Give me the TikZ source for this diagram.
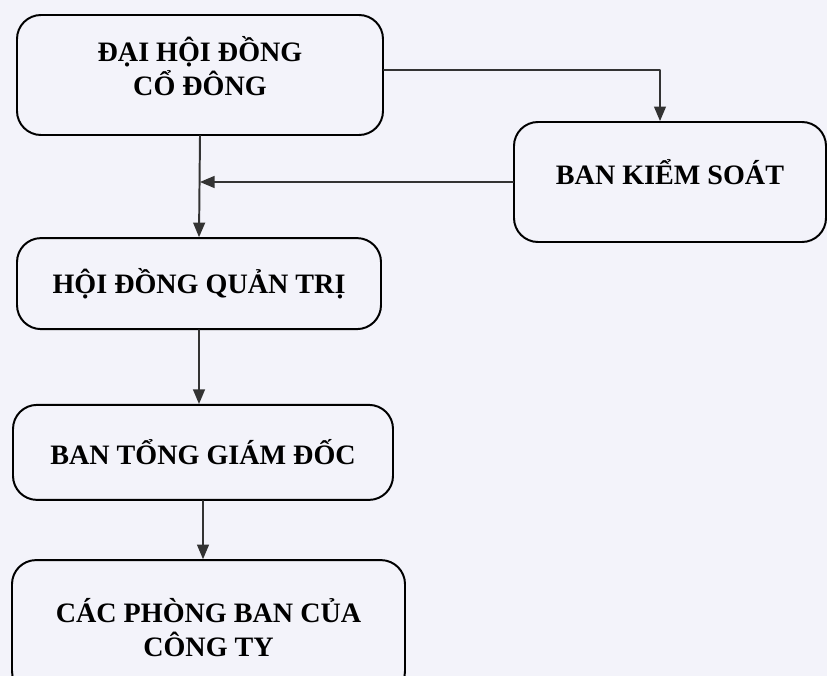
\documentclass[tikz,border=0pt]{standalone}
\usepackage{fontspec}
\setmainfont{Liberation Serif}
\usetikzlibrary{arrows}
\definecolor{paper}{RGB}{243,243,250}

\tikzset{
  khoi/.style={draw,line width=1.4pt,rounded corners=0.6cm,fill=paper,align=center,
    font=\bfseries\fontsize{20}{24}\selectfont,inner sep=0pt},
  noi/.style={->,line width=1.4pt,draw=black!80}
}

\begin{document}
\begin{tikzpicture}[line cap=round,line join=round,>=triangle 45,x=1.0cm,y=1.0cm]
            \clip(0.,-16.9) rectangle (20.675,0.);
            \fill[paper] (0.,-16.9) rectangle (20.675,0.);

            \node[khoi,minimum width=9.15cm,minimum height=3cm,text depth=0.45cm] (dhcd) at (5.0,-1.875) {ĐẠI HỘI ĐỒNG\\CỔ ĐÔNG};
            \node[khoi,minimum width=7.8cm,minimum height=3cm,text depth=0.5cm] (bks) at (16.75,-4.55) {BAN KIỂM SOÁT};
            \node[khoi,minimum width=9.1cm,minimum height=2.275cm] (hdqt) at (4.975,-7.09) {HỘI ĐỒNG QUẢN TRỊ};
            \node[khoi,minimum width=9.5cm,minimum height=2.375cm] (btgd) at (5.075,-11.31) {BAN TỔNG GIÁM ĐỐC};
            \node[khoi,minimum width=9.825cm,minimum height=3.375cm] (cpb) at (5.2125,-15.69) {CÁC PHÒNG BAN CỦA\\CÔNG TY};

            \coordinate (re) at ([yshift=0.12cm]dhcd.east);
            \coordinate (vao) at ([xshift=-0.25cm]bks.north);
            \coordinate (gap) at (bks.west -| dhcd.south);

            \draw [noi] (re) -| (vao);
            \draw [noi] (dhcd.south) -- (hdqt.north);
            \draw [noi] (bks.west) -- (gap);
            \draw [noi] (hdqt.south) -- (hdqt.south |- btgd.north);
            \draw [noi] (btgd.south) -- (btgd.south |- cpb.north);
\end{tikzpicture}
\end{document}
